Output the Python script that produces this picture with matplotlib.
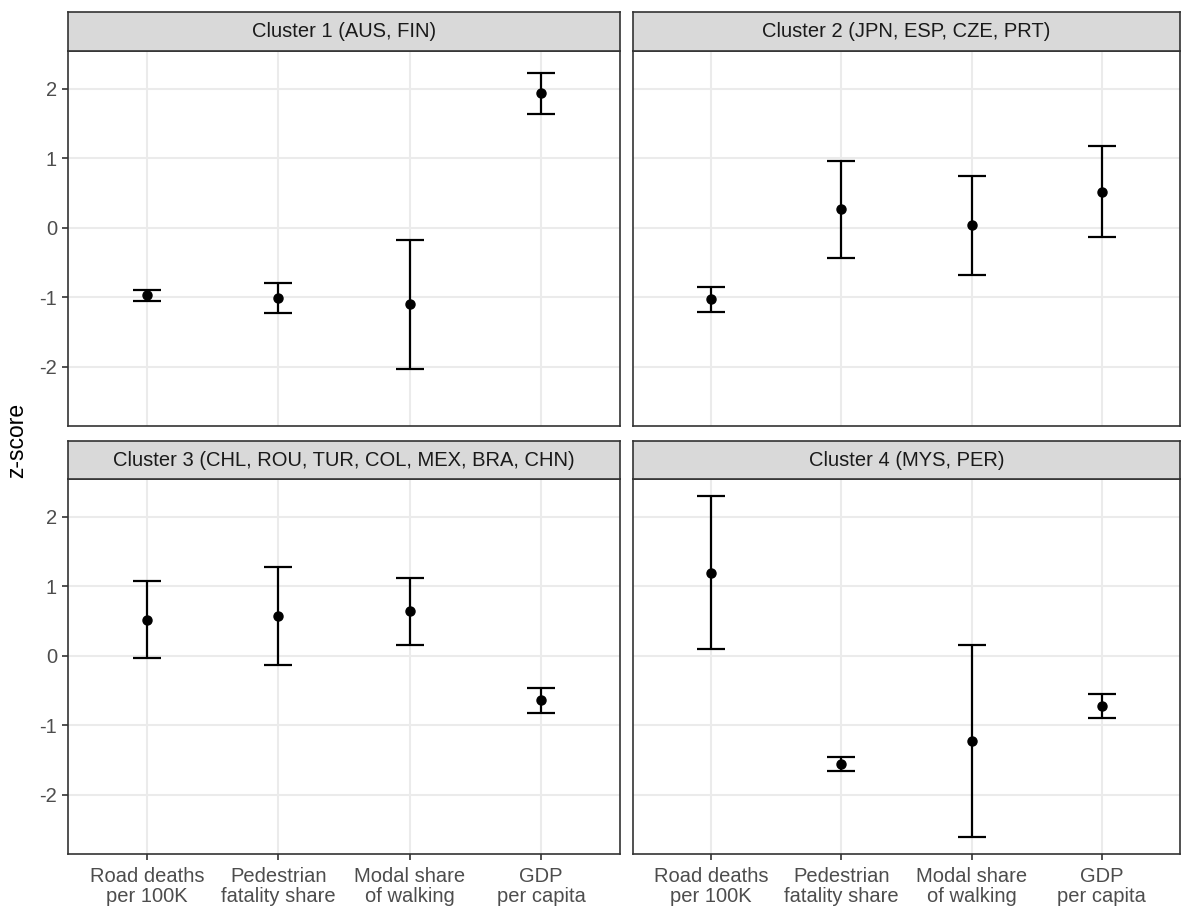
import matplotlib
matplotlib.use("Agg")
import matplotlib.pyplot as plt
import numpy as np

plt.rcParams['font.family'] = ['Liberation Sans', 'DejaVu Sans']

categories = ["Road deaths\nper 100K", "Pedestrian\nfatality share",
              "Modal share\nof walking", "GDP\nper capita"]
clusters = ["Cluster 1 (AUS, FIN)", "Cluster 2 (JPN, ESP, CZE, PRT)",
            "Cluster 3 (CHL, ROU, TUR, COL, MEX, BRA, CHN)", "Cluster 4 (MYS, PER)"]

means_c1 = [-0.96, -1.01, -1.09, 1.94]
lower_c1 = [-1.05, -1.22, -2.03, 1.64]
upper_c1 = [-0.89, -0.79, -0.17, 2.22]

means_c2 = [-1.02, 0.27, 0.04, 0.52]
lower_c2 = [-1.21, -0.43, -0.68, -0.14]
upper_c2 = [-0.85, 0.96, 0.75, 1.17]

means_c3 = [0.52, 0.57, 0.64, -0.64]
lower_c3 = [-0.03, -0.14, 0.16, -0.82]
upper_c3 = [1.07, 1.28, 1.12, -0.47]

means_c4 = [1.19, -1.56, -1.22, -0.72]
lower_c4 = [0.10, -1.66, -2.60, -0.89]
upper_c4 = [2.29, -1.45, 0.16, -0.55]

data = [(means_c1, lower_c1, upper_c1), (means_c2, lower_c2, upper_c2),
        (means_c3, lower_c3, upper_c3), (means_c4, lower_c4, upper_c4)]

W, H = 1183, 907
fig = plt.figure(figsize=(W / 100, H / 100), dpi=100)

def fx(px):
    return px / W

def fy(py):
    return 1 - py / H

cols = [(68, 620), (633, 1180)]
rows = [(12, 51, 426), (441, 479, 854)]  # strip top, panel top, panel bottom

border = "#333333"
x = np.arange(1, len(categories) + 1)
FS = 14.5

for i in range(4):
    r, c = divmod(i, 2)
    x0, x1 = cols[c]
    st, pt, pb = rows[r]
    ax = fig.add_axes([fx(x0), fy(pb), fx(x1) - fx(x0), fy(pt) - fy(pb)])
    sax = fig.add_axes([fx(x0), fy(pt), fx(x1) - fx(x0), fy(st) - fy(pt)])
    sax.set_facecolor("#D9D9D9")
    sax.set_xticks([]); sax.set_yticks([])
    for s in sax.spines.values():
        s.set_color(border); s.set_linewidth(1.2)
    sax.text(0.5, 0.5, clusters[i], ha="center", va="center", fontsize=FS,
             color="#1A1A1A", transform=sax.transAxes)

    m, lo, up = data[i]
    m = np.array(m); lo = np.array(lo); up = np.array(up)
    ax.set_xlim(0.4, 4.6)
    ax.set_ylim(-2.85, 2.54)
    ax.set_yticks([-2, -1, 0, 1, 2])
    ax.set_xticks(x)
    ax.grid(True, color="#EBEBEB", linewidth=1.5, zorder=0)
    ax.set_axisbelow(True)
    ax.errorbar(x, m, yerr=[m - lo, up - m], fmt="none", ecolor="black",
                elinewidth=1.6, capsize=10, capthick=1.6, zorder=3)
    ax.plot(x, m, "o", color="black", markersize=6.5, zorder=4)
    for s in ax.spines.values():
        s.set_color(border); s.set_linewidth(1.2)
    ax.tick_params(axis="both", color=border, length=4, width=1.2,
                   labelsize=FS, labelcolor="#4D4D4D", pad=4)
    if r == 1:
        ax.set_xticklabels(categories, fontsize=FS, linespacing=1.12)
        ax.tick_params(axis="x", pad=5)
    else:
        ax.tick_params(axis="x", length=0)
        ax.set_xticklabels([])
    if c == 0:
        ax.set_yticklabels(["-2", "-1", "0", "1", "2"])
    else:
        ax.tick_params(axis="y", length=0)
        ax.set_yticklabels([])

fig.text(fx(17), fy(440), "z-score", rotation=90, ha="center", va="center",
         fontsize=16.5, color="black")

fig.savefig("out.png", dpi=100, facecolor="white")
